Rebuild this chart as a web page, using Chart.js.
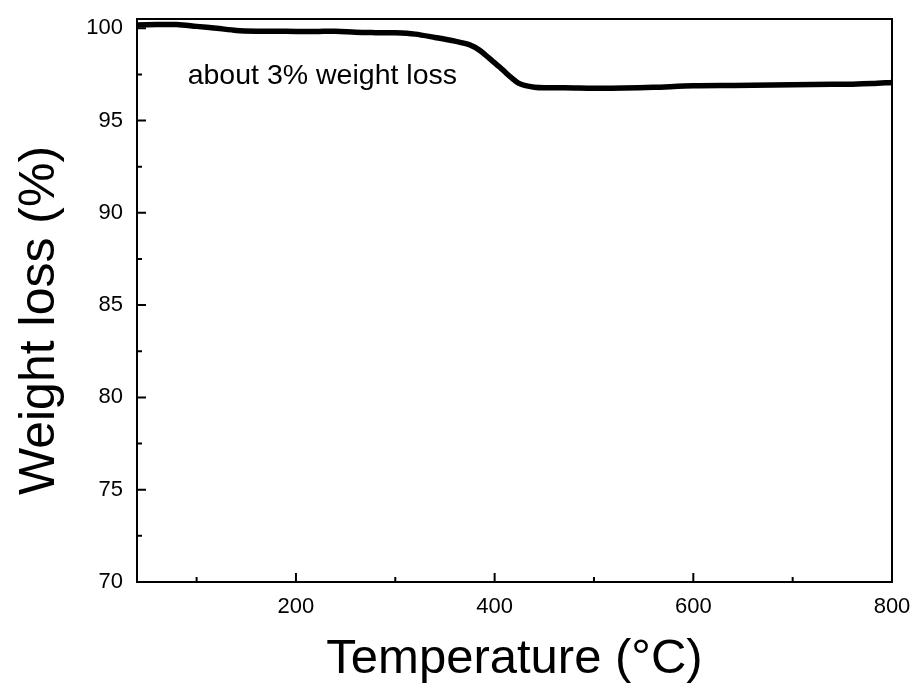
<!DOCTYPE html>
<html>
<head>
<meta charset="utf-8">
<script src="https://cdn.jsdelivr.net/npm/chart.js@4/dist/chart.umd.min.js"></script>
<style>
  html, body { margin: 0; padding: 0; background: #fff; }
  #wrap { width: 916px; height: 688px; }
</style>
</head>
<body>
<div id="wrap"><canvas id="c" width="916" height="688"></canvas></div>
<script>
const temperature = [40, 60, 80, 100, 120, 140, 160, 180, 200, 220, 240, 260, 280, 300, 320, 340, 360, 375, 385, 395, 405, 412, 418, 424, 430, 440, 450, 470, 500, 530, 560, 600, 640, 680, 720, 760, 780, 800];
const weight = [100.18, 100.2, 100.2, 100.1, 100.0, 99.88, 99.84, 99.84, 99.82, 99.82, 99.84, 99.78, 99.76, 99.75, 99.68, 99.5, 99.3, 99.1, 98.8, 98.35, 97.9, 97.55, 97.27, 97.02, 96.9, 96.8, 96.77, 96.78, 96.75, 96.76, 96.8, 96.88, 96.9, 96.92, 96.95, 96.97, 97.0, 97.06];
const xTicks = [200, 400, 600, 800];
const xMinorTicks = [100, 300, 500, 700];
const yTicks = [70, 75, 80, 85, 90, 95, 100];
const yMinorTicks = [72.5, 77.5, 82.5, 87.5, 92.5, 97.5];
const xTitle = 'Temperature (°C)';
const yTitle = 'Weight loss (%)';
const annotationText = 'about 3% weight loss';
const annotationT = 91;
const annotationW = 96.96;

const FONT = "'Liberation Sans', Arial, sans-serif";

const framePlugin = {
  id: 'frame',
  afterDatasetsDraw(chart) {
    const {ctx, chartArea: a, scales: {x, y}} = chart;
    ctx.save();
    ctx.strokeStyle = '#000';
    ctx.lineWidth = 2;
    ctx.beginPath();
    xTicks.forEach(v => { const px = x.getPixelForValue(v); ctx.moveTo(px, a.bottom); ctx.lineTo(px, a.bottom - 9); });
    xMinorTicks.forEach(v => { const px = x.getPixelForValue(v); ctx.moveTo(px, a.bottom); ctx.lineTo(px, a.bottom - 5); });
    yTicks.forEach(v => { const py = y.getPixelForValue(v); ctx.moveTo(a.left, py); ctx.lineTo(a.left + 9, py); });
    yMinorTicks.forEach(v => { const py = y.getPixelForValue(v); ctx.moveTo(a.left, py); ctx.lineTo(a.left + 5, py); });
    ctx.stroke();
    ctx.strokeRect(a.left, a.top, a.right - a.left, a.bottom - a.top);
    ctx.fillStyle = '#000';
    ctx.font = '28.5px ' + FONT;
    ctx.textBaseline = 'alphabetic';
    ctx.textAlign = 'left';
    ctx.fillText(annotationText, x.getPixelForValue(annotationT), y.getPixelForValue(annotationW));
    // y axis title
    ctx.save();
    ctx.translate(40, (a.top + a.bottom) / 2 + 20);
    ctx.rotate(-Math.PI / 2);
    ctx.font = '50px ' + FONT;
    ctx.textAlign = 'center';
    ctx.textBaseline = 'middle';
    ctx.fillText(yTitle, 0, 0);
    ctx.restore();
    ctx.restore();
  }
};

function noOverhang(s) {
  s.paddingLeft = 0; s.paddingRight = 0; s.paddingTop = 0; s.paddingBottom = 0;
}

new Chart(document.getElementById('c'), {
  type: 'line',
  data: {
    labels: temperature,
    datasets: [{
      data: temperature.map((t, i) => ({x: t, y: weight[i]})),
      borderColor: '#000',
      borderWidth: 5.5,
      pointRadius: 0,
      tension: 0.3,
      fill: false
    }]
  },
  options: {
    responsive: false,
    animation: false,
    events: [],
    layout: { padding: { left: 0, top: 19, right: 24, bottom: 0 } },
    plugins: { legend: { display: false }, tooltip: { enabled: false } },
    scales: {
      x: {
        type: 'linear',
        min: 40, max: 800,
        afterBuildTicks(s) { s.ticks = xTicks.map(v => ({value: v})); },
        afterFit(s) { s.height = 106; noOverhang(s); },
        grid: { display: false, drawTicks: false },
        border: { display: false },
        ticks: { color: '#000', font: { family: FONT, size: 22 }, padding: 12, maxRotation: 0 },
        title: { display: true, text: xTitle, color: '#000', font: { family: FONT, size: 49, lineHeight: 1 }, padding: { top: 0, bottom: 4 } }
      },
      y: {
        type: 'linear',
        min: 70, max: 100.5,
        afterBuildTicks(s) { s.ticks = yTicks.map(v => ({value: v})); },
        afterFit(s) { s.width = 137; noOverhang(s); },
        grid: { display: false, drawTicks: false },
        border: { display: false },
        ticks: { color: '#000', font: { family: FONT, size: 22 }, padding: 14 },
        title: { display: false }
      }
    }
  },
  plugins: [framePlugin]
});
</script>
</body>
</html>
